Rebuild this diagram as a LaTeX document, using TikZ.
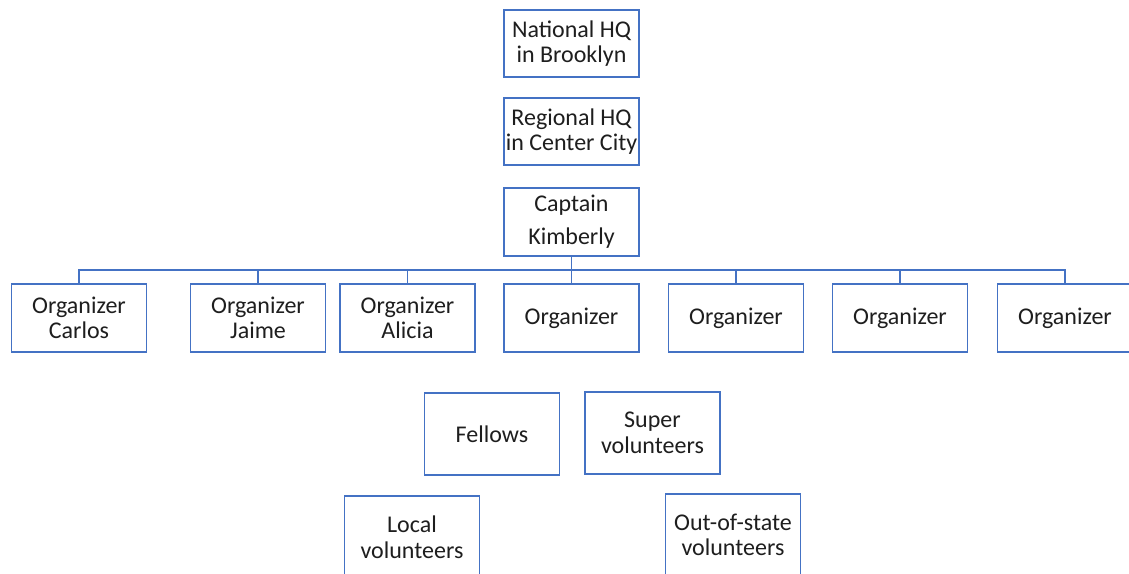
\documentclass[tikz,border=0pt]{standalone}
\usepackage{fontspec}
\setmainfont{Carlito}
\definecolor{boxblue}{RGB}{68,114,196}
\definecolor{txt}{RGB}{30,30,30}
\begin{document}
\begin{tikzpicture}[x=1pt,y=-1pt,
  box/.style={draw=boxblue,line width=1.2pt,fill=white,rectangle,align=center,
    inner sep=0pt,minimum width=135pt,minimum height=67pt,text=txt,
    font=\fontsize{24}{25.5}\selectfont},
  tallbox/.style={box,minimum height=82pt},
  link/.style={draw=boxblue,line width=1.2pt}]
\useasboundingbox (0,0) rectangle (1129,573);
\clip (0,0) rectangle (1129,573);
\node[box] (nat) at (571.5,43.5) {National HQ\\in Brooklyn};
\node[box] (reg) at (571.5,131.5) {Regional HQ\\in Center City};
\node[box,minimum height=68pt,font=\fontsize{24}{33}\selectfont] (cap) at (571.5,222) {Captain\\Kimberly};
\node[box,minimum height=68pt] (o1) at (79,318) {Organizer\\Carlos};
\node[box,minimum height=68pt] (o2) at (258,318) {Organizer\\Jaime};
\node[box,minimum height=68pt] (o3) at (407.5,318) {Organizer\\Alicia};
\node[box,minimum height=68pt] (o4) at (571.5,318) {Organizer};
\node[box,minimum height=68pt] (o5) at (736,318) {Organizer};
\node[box,minimum height=68pt] (o6) at (900,318) {Organizer};
\node[box,minimum height=68pt] (o7) at (1065,318) {Organizer};
\node[tallbox] (fel) at (492,434) {Fellows};
\node[tallbox] (sup) at (652.5,433) {Super\\volunteers};
\node[tallbox] (loc) at (412,537) {Local\\volunteers};
\node[tallbox] (out) at (733,535) {Out-of-state\\volunteers};
\coordinate (bus) at (0,270);
\draw[link] (cap.south) -- (cap.south |- bus);
\draw[link] (o1.north) -- (o1.north |- bus) -- (o7.north |- bus) -- (o7.north);
\foreach \n in {o2,o3,o4,o5,o6}
  \draw[link] (\n.north) -- (\n.north |- bus);
\end{tikzpicture}
\end{document}
